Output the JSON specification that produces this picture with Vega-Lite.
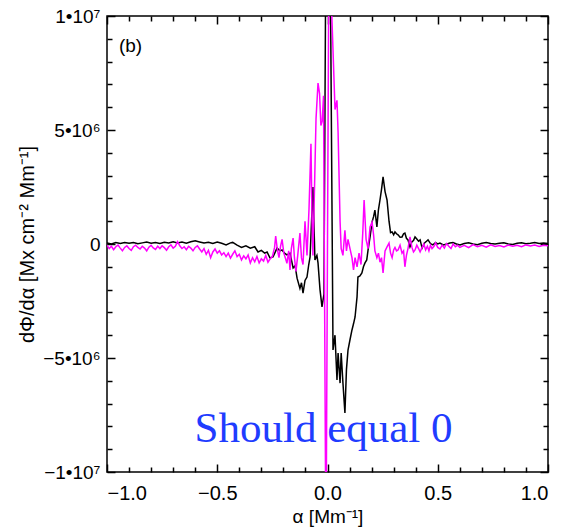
{
  "$schema": "https://vega.github.io/schema/vega-lite/v6.json",
  "width": 441,
  "height": 456,
  "autosize": "none",
  "padding": {"left": 107, "top": 16, "right": 17, "bottom": 58},
  "background": "white",
  "config": {
    "view": {"stroke": "black", "strokeWidth": 1.5},
    "font": "Liberation Sans",
    "axis": {"grid": false, "labelColor": "black", "titleColor": "black", "labelFont": "Liberation Sans", "titleFont": "Liberation Sans", "titleFontWeight": "normal"}
  },
  "datasets": {
    "black": [
      {"a": -1.00, "v": 50000}, {"a": -0.98, "v": 0}, {"a": -0.96, "v": 60000}, {"a": -0.94, "v": 20000},
      {"a": -0.92, "v": 70000}, {"a": -0.90, "v": 30000}, {"a": -0.88, "v": 60000}, {"a": -0.86, "v": 10000},
      {"a": -0.84, "v": 50000}, {"a": -0.82, "v": 90000}, {"a": -0.80, "v": 30000}, {"a": -0.78, "v": 70000},
      {"a": -0.76, "v": 20000}, {"a": -0.74, "v": 80000}, {"a": -0.72, "v": 40000}, {"a": -0.70, "v": 100000},
      {"a": -0.68, "v": 50000}, {"a": -0.66, "v": 90000}, {"a": -0.64, "v": 30000}, {"a": -0.62, "v": 100000},
      {"a": -0.60, "v": 140000}, {"a": -0.58, "v": 90000}, {"a": -0.56, "v": 40000}, {"a": -0.54, "v": 80000},
      {"a": -0.52, "v": 20000}, {"a": -0.50, "v": 90000}, {"a": -0.48, "v": 30000}, {"a": -0.46, "v": -40000},
      {"a": -0.44, "v": 50000}, {"a": -0.43, "v": 70000}, {"a": -0.41, "v": -50000}, {"a": -0.39, "v": -150000},
      {"a": -0.37, "v": -80000}, {"a": -0.35, "v": -180000}, {"a": -0.33, "v": -120000}, {"a": -0.315, "v": -350000},
      {"a": -0.30, "v": -280000}, {"a": -0.285, "v": -400000}, {"a": -0.274, "v": -350000}, {"a": -0.261, "v": -610000},
      {"a": -0.247, "v": -570000}, {"a": -0.229, "v": -180000}, {"a": -0.215, "v": -300000}, {"a": -0.206, "v": -260000},
      {"a": -0.195, "v": -400000}, {"a": -0.184, "v": -480000}, {"a": -0.170, "v": -400000}, {"a": -0.156, "v": -1050000},
      {"a": -0.147, "v": -950000}, {"a": -0.138, "v": -1500000}, {"a": -0.125, "v": -1950000}, {"a": -0.118, "v": -1700000},
      {"a": -0.111, "v": -2150000}, {"a": -0.102, "v": -1600000}, {"a": -0.093, "v": -1450000}, {"a": -0.085, "v": -900000},
      {"a": -0.079, "v": -570000}, {"a": -0.066, "v": 2500000}, {"a": -0.057, "v": -700000}, {"a": -0.048, "v": -500000},
      {"a": -0.043, "v": -830000}, {"a": -0.034, "v": -2000000}, {"a": -0.025, "v": -2760000}, {"a": -0.016, "v": -2200000},
      {"a": -0.007, "v": 14000000}, {"a": 0.000, "v": 12000000}, {"a": 0.012, "v": 13000000}, {"a": 0.025, "v": -4650000},
      {"a": 0.034, "v": -4000000}, {"a": 0.043, "v": -5960000}, {"a": 0.048, "v": -4780000}, {"a": 0.057, "v": -6100000},
      {"a": 0.062, "v": -4780000}, {"a": 0.070, "v": -6100000}, {"a": 0.079, "v": -7410000}, {"a": 0.086, "v": -5500000},
      {"a": 0.093, "v": -4650000}, {"a": 0.102, "v": -4200000}, {"a": 0.111, "v": -3770000}, {"a": 0.118, "v": -3500000},
      {"a": 0.125, "v": -3200000}, {"a": 0.134, "v": -2320000}, {"a": 0.138, "v": -1450000}, {"a": 0.147, "v": -1400000},
      {"a": 0.156, "v": -1270000}, {"a": 0.163, "v": -1000000}, {"a": 0.170, "v": -830000}, {"a": 0.178, "v": -700000},
      {"a": 0.184, "v": -260000}, {"a": 0.193, "v": 310000}, {"a": 0.202, "v": 960000}, {"a": 0.209, "v": 1200000},
      {"a": 0.215, "v": 1490000}, {"a": 0.224, "v": 750000}, {"a": 0.231, "v": 1500000}, {"a": 0.238, "v": 1930000},
      {"a": 0.245, "v": 2400000}, {"a": 0.252, "v": 2940000}, {"a": 0.261, "v": 2300000}, {"a": 0.270, "v": 1930000},
      {"a": 0.279, "v": 1000000}, {"a": 0.286, "v": 500000}, {"a": 0.293, "v": 530000}, {"a": 0.300, "v": 400000},
      {"a": 0.306, "v": 530000}, {"a": 0.313, "v": 450000}, {"a": 0.320, "v": 400000}, {"a": 0.329, "v": 300000},
      {"a": 0.338, "v": 310000}, {"a": 0.345, "v": 450000}, {"a": 0.351, "v": 480000}, {"a": 0.358, "v": 250000},
      {"a": 0.365, "v": 180000}, {"a": 0.374, "v": -130000}, {"a": 0.383, "v": 100000}, {"a": 0.390, "v": 150000},
      {"a": 0.397, "v": 310000}, {"a": 0.405, "v": 220000}, {"a": 0.413, "v": 120000}, {"a": 0.420, "v": 180000},
      {"a": 0.429, "v": -180000}, {"a": 0.440, "v": 50000}, {"a": 0.449, "v": 120000}, {"a": 0.456, "v": 180000},
      {"a": 0.467, "v": 20000}, {"a": 0.478, "v": -40000}, {"a": 0.490, "v": 60000}, {"a": 0.500, "v": 0},
      {"a": 0.510, "v": 40000}, {"a": 0.525, "v": -40000}, {"a": 0.542, "v": 0}, {"a": 0.555, "v": 40000},
      {"a": 0.569, "v": 60000}, {"a": 0.585, "v": 0}, {"a": 0.601, "v": -40000}, {"a": 0.62, "v": 20000},
      {"a": 0.64, "v": 50000}, {"a": 0.66, "v": 0}, {"a": 0.68, "v": -30000}, {"a": 0.70, "v": 30000},
      {"a": 0.72, "v": 60000}, {"a": 0.74, "v": 20000}, {"a": 0.76, "v": 0}, {"a": 0.78, "v": 30000},
      {"a": 0.80, "v": 50000}, {"a": 0.82, "v": 0}, {"a": 0.84, "v": -20000}, {"a": 0.86, "v": 30000},
      {"a": 0.88, "v": 50000}, {"a": 0.90, "v": 10000}, {"a": 0.92, "v": 30000}, {"a": 0.94, "v": 60000},
      {"a": 0.96, "v": 20000}, {"a": 0.98, "v": 40000}, {"a": 1.00, "v": 20000}
    ],
    "magenta": [
      {"a": -1.00, "v": -50000}, {"a": -0.99, "v": -200000}, {"a": -0.98, "v": -100000}, {"a": -0.97, "v": -250000},
      {"a": -0.96, "v": -120000}, {"a": -0.95, "v": -50000}, {"a": -0.94, "v": -180000}, {"a": -0.93, "v": -300000},
      {"a": -0.92, "v": -150000}, {"a": -0.91, "v": -80000}, {"a": -0.90, "v": -200000}, {"a": -0.89, "v": -280000},
      {"a": -0.88, "v": -120000}, {"a": -0.87, "v": -50000}, {"a": -0.86, "v": -150000}, {"a": -0.85, "v": -220000},
      {"a": -0.84, "v": -100000}, {"a": -0.83, "v": -180000}, {"a": -0.82, "v": -300000}, {"a": -0.81, "v": -140000},
      {"a": -0.80, "v": -60000}, {"a": -0.79, "v": -170000}, {"a": -0.78, "v": -240000}, {"a": -0.77, "v": -100000},
      {"a": -0.76, "v": -200000}, {"a": -0.75, "v": -80000}, {"a": -0.74, "v": -160000}, {"a": -0.73, "v": -270000},
      {"a": -0.72, "v": -120000}, {"a": -0.71, "v": -40000}, {"a": -0.70, "v": -180000}, {"a": -0.69, "v": -100000},
      {"a": -0.68, "v": 100000}, {"a": -0.67, "v": -80000}, {"a": -0.66, "v": -200000}, {"a": -0.65, "v": -120000},
      {"a": -0.64, "v": -250000}, {"a": -0.63, "v": -100000}, {"a": -0.62, "v": -180000}, {"a": -0.61, "v": -300000},
      {"a": -0.60, "v": -150000}, {"a": -0.59, "v": -80000}, {"a": -0.58, "v": -220000}, {"a": -0.57, "v": -350000},
      {"a": -0.56, "v": -200000}, {"a": -0.55, "v": -450000}, {"a": -0.54, "v": -280000}, {"a": -0.53, "v": -600000},
      {"a": -0.52, "v": -350000}, {"a": -0.51, "v": -220000}, {"a": -0.50, "v": -400000}, {"a": -0.49, "v": -300000},
      {"a": -0.48, "v": -480000}, {"a": -0.47, "v": -380000}, {"a": -0.46, "v": -550000}, {"a": -0.45, "v": -400000},
      {"a": -0.44, "v": -620000}, {"a": -0.43, "v": -450000}, {"a": -0.42, "v": -300000}, {"a": -0.41, "v": -550000},
      {"a": -0.40, "v": -450000}, {"a": -0.39, "v": -700000}, {"a": -0.38, "v": -520000}, {"a": -0.37, "v": -650000},
      {"a": -0.36, "v": -480000}, {"a": -0.35, "v": -830000}, {"a": -0.34, "v": -600000}, {"a": -0.33, "v": -780000},
      {"a": -0.32, "v": -550000}, {"a": -0.31, "v": -830000}, {"a": -0.30, "v": -650000}, {"a": -0.29, "v": -750000},
      {"a": -0.28, "v": -500000}, {"a": -0.27, "v": -800000}, {"a": -0.26, "v": -650000}, {"a": -0.25, "v": -550000},
      {"a": -0.24, "v": -150000}, {"a": -0.235, "v": 350000}, {"a": -0.228, "v": -200000}, {"a": -0.22, "v": -600000},
      {"a": -0.213, "v": -100000}, {"a": -0.206, "v": 200000}, {"a": -0.198, "v": -400000}, {"a": -0.19, "v": -650000},
      {"a": -0.184, "v": -850000}, {"a": -0.176, "v": -300000}, {"a": -0.170, "v": -1140000}, {"a": -0.164, "v": -200000},
      {"a": -0.156, "v": 260000}, {"a": -0.150, "v": -600000}, {"a": -0.143, "v": -1200000}, {"a": -0.135, "v": -500000},
      {"a": -0.125, "v": 480000}, {"a": -0.118, "v": -610000}, {"a": -0.111, "v": -900000}, {"a": -0.102, "v": 1000000},
      {"a": -0.093, "v": -500000}, {"a": -0.084, "v": 1500000}, {"a": -0.075, "v": 4400000}, {"a": -0.070, "v": 1000000},
      {"a": -0.066, "v": -500000}, {"a": -0.060, "v": 2000000}, {"a": -0.052, "v": 5500000}, {"a": -0.043, "v": 7060000},
      {"a": -0.036, "v": 6600000}, {"a": -0.030, "v": 5200000}, {"a": -0.024, "v": 5400000}, {"a": -0.018, "v": 6500000},
      {"a": -0.007, "v": -14000000}, {"a": 0.007, "v": 14000000}, {"a": 0.016, "v": 11000000}, {"a": 0.025, "v": 8500000},
      {"a": 0.034, "v": 5900000}, {"a": 0.043, "v": 6300000}, {"a": 0.048, "v": 4900000}, {"a": 0.057, "v": 1000000},
      {"a": 0.062, "v": -200000}, {"a": 0.070, "v": -500000}, {"a": 0.079, "v": 600000}, {"a": 0.086, "v": -300000},
      {"a": 0.093, "v": 200000}, {"a": 0.102, "v": -200000}, {"a": 0.111, "v": -600000}, {"a": 0.118, "v": -1140000},
      {"a": 0.125, "v": -600000}, {"a": 0.134, "v": -1000000}, {"a": 0.143, "v": -400000}, {"a": 0.152, "v": -900000},
      {"a": 0.160, "v": 500000}, {"a": 0.166, "v": 1930000}, {"a": 0.175, "v": 200000}, {"a": 0.184, "v": -200000},
      {"a": 0.193, "v": 750000}, {"a": 0.202, "v": 960000}, {"a": 0.209, "v": 400000}, {"a": 0.215, "v": -300000},
      {"a": 0.224, "v": -600000}, {"a": 0.231, "v": -400000}, {"a": 0.238, "v": -800000}, {"a": 0.245, "v": -600000},
      {"a": 0.252, "v": -1270000}, {"a": 0.261, "v": -300000}, {"a": 0.270, "v": -130000}, {"a": 0.279, "v": 40000},
      {"a": 0.286, "v": -400000}, {"a": 0.293, "v": -600000}, {"a": 0.300, "v": -260000}, {"a": 0.306, "v": -150000},
      {"a": 0.313, "v": -300000}, {"a": 0.320, "v": -260000}, {"a": 0.329, "v": -50000}, {"a": 0.338, "v": -400000},
      {"a": 0.345, "v": -300000}, {"a": 0.351, "v": -1000000}, {"a": 0.358, "v": -500000}, {"a": 0.365, "v": -200000},
      {"a": 0.374, "v": 310000}, {"a": 0.383, "v": -150000}, {"a": 0.390, "v": -350000}, {"a": 0.397, "v": -260000},
      {"a": 0.405, "v": -50000}, {"a": 0.413, "v": -200000}, {"a": 0.420, "v": -350000}, {"a": 0.429, "v": -150000},
      {"a": 0.437, "v": 0}, {"a": 0.445, "v": -260000}, {"a": 0.453, "v": -100000}, {"a": 0.460, "v": -300000},
      {"a": 0.467, "v": -50000}, {"a": 0.474, "v": -200000}, {"a": 0.483, "v": -100000}, {"a": 0.49, "v": 50000},
      {"a": 0.50, "v": -150000}, {"a": 0.51, "v": -220000}, {"a": 0.52, "v": -50000}, {"a": 0.53, "v": -180000},
      {"a": 0.54, "v": 20000}, {"a": 0.55, "v": -100000}, {"a": 0.56, "v": -200000}, {"a": 0.57, "v": 0},
      {"a": 0.58, "v": -120000}, {"a": 0.59, "v": -50000}, {"a": 0.60, "v": -150000}, {"a": 0.62, "v": -60000},
      {"a": 0.64, "v": -160000}, {"a": 0.66, "v": -30000}, {"a": 0.68, "v": -120000}, {"a": 0.70, "v": -60000},
      {"a": 0.72, "v": -140000}, {"a": 0.74, "v": -40000}, {"a": 0.76, "v": -110000}, {"a": 0.78, "v": -70000},
      {"a": 0.80, "v": -130000}, {"a": 0.82, "v": -50000}, {"a": 0.84, "v": -100000}, {"a": 0.86, "v": -60000},
      {"a": 0.88, "v": -120000}, {"a": 0.90, "v": -40000}, {"a": 0.92, "v": -90000}, {"a": 0.94, "v": -50000},
      {"a": 0.96, "v": -110000}, {"a": 0.98, "v": -60000}, {"a": 1.00, "v": -80000}
    ],
    "labels": [
      {"a": -0.946, "v": 8700000, "t": "(b)"}
    ],
    "note": [
      {"a": -0.018, "v": -8680000, "t": "Should equal 0"}
    ]
  },
  "layer": [
    {
      "data": {"name": "black"},
      "mark": {"type": "line", "color": "black", "strokeWidth": 1.5, "clip": true},
      "encoding": {
        "x": {"field": "a", "type": "quantitative", "scale": {"domain": [-1, 1], "nice": false, "zero": false},
          "axis": {"orient": "bottom", "offset": -8, "tickSize": 8, "tickColor": "black", "tickWidth": 1.5, "domain": false, "title": "α [Mm⁻¹]", "titleFontSize": 19, "titlePadding": 4, "labelFontSize": 20, "labelPadding": 11,
            "values": [-1, -0.5, 0, 0.5, 1],
            "labelExpr": "format(datum.value, '.1f')"}},
        "y": {"field": "v", "type": "quantitative", "scale": {"domain": [-10000000, 10000000], "nice": false, "zero": false},
          "axis": {"orient": "left", "offset": -8, "tickSize": 8, "tickColor": "black", "tickWidth": 1.5, "domain": false, "title": "dΦ/dα [Mx cm⁻² Mm⁻¹]", "titleFontSize": 20, "titlePadding": 5, "labelFontSize": 19, "labelPadding": 7,
            "values": [-10000000, -5000000, 0, 5000000, 10000000],
            "labelExpr": "datum.value == 10000000 ? '1•10⁷' : datum.value == 5000000 ? '5•10⁶' : datum.value == 0 ? '0' : datum.value == -5000000 ? '−5•10⁶' : '−1•10⁷'"}}
      }
    },
    {
      "data": {"name": "magenta"},
      "mark": {"type": "line", "color": "#ff00ff", "strokeWidth": 1.5, "clip": true},
      "encoding": {
        "x": {"field": "a", "type": "quantitative",
          "axis": {"orient": "top", "offset": -8, "tickSize": 8, "tickColor": "black", "tickWidth": 1.5, "domain": false, "title": null, "labels": false, "values": [-1, -0.5, 0, 0.5, 1]}},
        "y": {"field": "v", "type": "quantitative",
          "axis": {"orient": "right", "offset": -8, "tickSize": 8, "tickColor": "black", "tickWidth": 1.5, "domain": false, "title": null, "labels": false, "values": [-10000000, -5000000, 0, 5000000, 10000000]}}
      }
    },
    {
      "data": {"name": "labels"},
      "mark": {"type": "text", "align": "left", "baseline": "middle", "fontSize": 19, "font": "Liberation Sans", "color": "black"},
      "encoding": {
        "x": {"field": "a", "type": "quantitative",
          "axis": {"orient": "bottom", "offset": -5, "tickSize": 5, "tickColor": "black", "tickWidth": 1.5, "domain": false, "title": null, "labels": false,
            "values": [-0.9, -0.8, -0.7, -0.6, -0.4, -0.3, -0.2, -0.1, 0.1, 0.2, 0.3, 0.4, 0.6, 0.7, 0.8, 0.9]}},
        "y": {"field": "v", "type": "quantitative",
          "axis": {"orient": "left", "offset": -5, "tickSize": 5, "tickColor": "black", "tickWidth": 1.5, "domain": false, "title": null, "labels": false,
            "values": [-9000000, -8000000, -7000000, -6000000, -4000000, -3000000, -2000000, -1000000, 1000000, 2000000, 3000000, 4000000, 6000000, 7000000, 8000000, 9000000]}},
        "text": {"field": "t"}
      }
    },
    {
      "data": {"name": "note"},
      "mark": {"type": "text", "align": "center", "baseline": "alphabetic", "fontSize": 43, "font": "Liberation Serif", "color": "#1f3cff"},
      "encoding": {
        "x": {"field": "a", "type": "quantitative",
          "axis": {"orient": "top", "offset": -5, "tickSize": 5, "tickColor": "black", "tickWidth": 1.5, "domain": false, "title": null, "labels": false,
            "values": [-0.9, -0.8, -0.7, -0.6, -0.4, -0.3, -0.2, -0.1, 0.1, 0.2, 0.3, 0.4, 0.6, 0.7, 0.8, 0.9]}},
        "y": {"field": "v", "type": "quantitative",
          "axis": {"orient": "right", "offset": -5, "tickSize": 5, "tickColor": "black", "tickWidth": 1.5, "domain": false, "title": null, "labels": false,
            "values": [-9000000, -8000000, -7000000, -6000000, -4000000, -3000000, -2000000, -1000000, 1000000, 2000000, 3000000, 4000000, 6000000, 7000000, 8000000, 9000000]}},
        "text": {"field": "t"}
      }
    }
  ],
  "resolve": {"axis": {"x": "independent", "y": "independent"}}
}
